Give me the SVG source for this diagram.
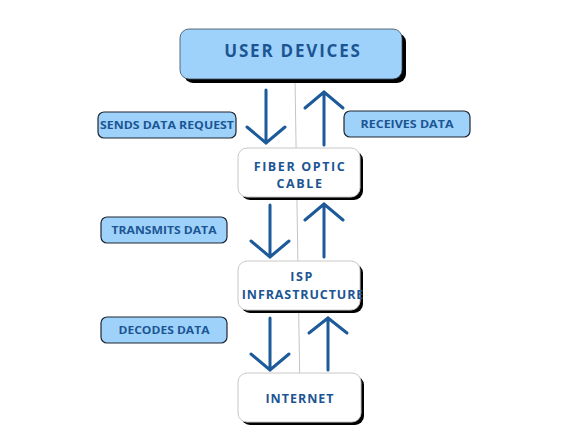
<svg xmlns="http://www.w3.org/2000/svg" width="577" height="433" viewBox="0 0 577 433">
<defs>
<style>
.shadow{fill:#000}
.node{fill:#fff;stroke:#c8c8c8;stroke-width:1}
.main{fill:#9fd2fb;stroke:#3a4a5a;stroke-width:0.8}
.lbl{fill:#9fd2fb;stroke:#1e2633;stroke-width:1.2}
.t{font-family:"Open Sans","Liberation Sans",sans-serif;font-weight:bold;fill:#1c5593;text-anchor:middle}
.nt{font-size:12.5px;letter-spacing:1.6px}
.lt{font-size:11px}
.arr{fill:none;stroke:#1c5a9a;stroke-width:3;stroke-linecap:round;stroke-linejoin:miter}
.axis{stroke:#c4c4c4;stroke-width:1}
</style>
</defs>
<rect width="577" height="433" fill="#fff"/>
<g id="connectors">
<line class="axis" x1="295" y1="79" x2="300" y2="395"/>
<path class="arr" d="M266 90 V143 M247 127 L266 143 L285 127"/>
<path class="arr" d="M324 145 V92 M305 108 L324 92 L343 108"/>
<path class="arr" d="M270 205 V257 M251 241 L270 257 L289 241"/>
<path class="arr" d="M324 257 V204 M305 220 L324 204 L343 220"/>
<path class="arr" d="M270 318 V370 M251 354 L270 370 L289 354"/>
<path class="arr" d="M328 370 V318 M309 333 L328 318 L347 333"/>
</g>
<g id="user-devices">
<rect class="shadow" x="184" y="33" width="222" height="50" rx="9"/>
<rect class="main" x="180" y="29" width="222" height="50" rx="9"/>
<text class="t" x="293" y="57" font-size="17" letter-spacing="1.8">USER DEVICES</text>
</g>
<g id="fiber-optic-cable">
<rect class="shadow" x="241" y="151" width="122" height="49" rx="9"/>
<rect class="node" x="238" y="148" width="122" height="49" rx="9"/>
<text class="t nt" x="300" y="171">FIBER OPTIC</text>
<text class="t nt" x="300" y="188">CABLE</text>
</g>
<g id="isp-infrastructure">
<rect class="shadow" x="241" y="264" width="122" height="49" rx="9"/>
<rect class="node" x="238" y="261" width="122" height="49" rx="9"/>
<text class="t nt" x="302" y="281">ISP</text>
<text class="t" x="303" y="299" font-size="12.5" letter-spacing="0.9">INFRASTRUCTURE</text>
</g>
<g id="internet">
<rect class="shadow" x="241" y="376" width="123" height="49" rx="9"/>
<rect class="node" x="238" y="373" width="123" height="49" rx="9"/>
<text class="t" x="300" y="403" font-size="12.5" letter-spacing="1">INTERNET</text>
</g>
<g id="label-sends-data-request">
<rect class="lbl" x="98" y="112" width="138" height="26" rx="6"/>
<text class="t lt" x="167" y="129" textLength="134" lengthAdjust="spacingAndGlyphs">SENDS DATA REQUEST</text>
</g>
<g id="label-receives-data">
<rect class="lbl" x="344" y="111" width="126" height="26" rx="6"/>
<text class="t lt" x="407" y="128" textLength="93" lengthAdjust="spacingAndGlyphs">RECEIVES DATA</text>
</g>
<g id="label-transmits-data">
<rect class="lbl" x="101" y="217" width="126" height="26" rx="6"/>
<text class="t lt" x="164" y="234" textLength="105" lengthAdjust="spacingAndGlyphs">TRANSMITS DATA</text>
</g>
<g id="label-decodes-data">
<rect class="lbl" x="101" y="317" width="126" height="26" rx="6"/>
<text class="t lt" x="164" y="334" textLength="91" lengthAdjust="spacingAndGlyphs">DECODES DATA</text>
</g>
</svg>
